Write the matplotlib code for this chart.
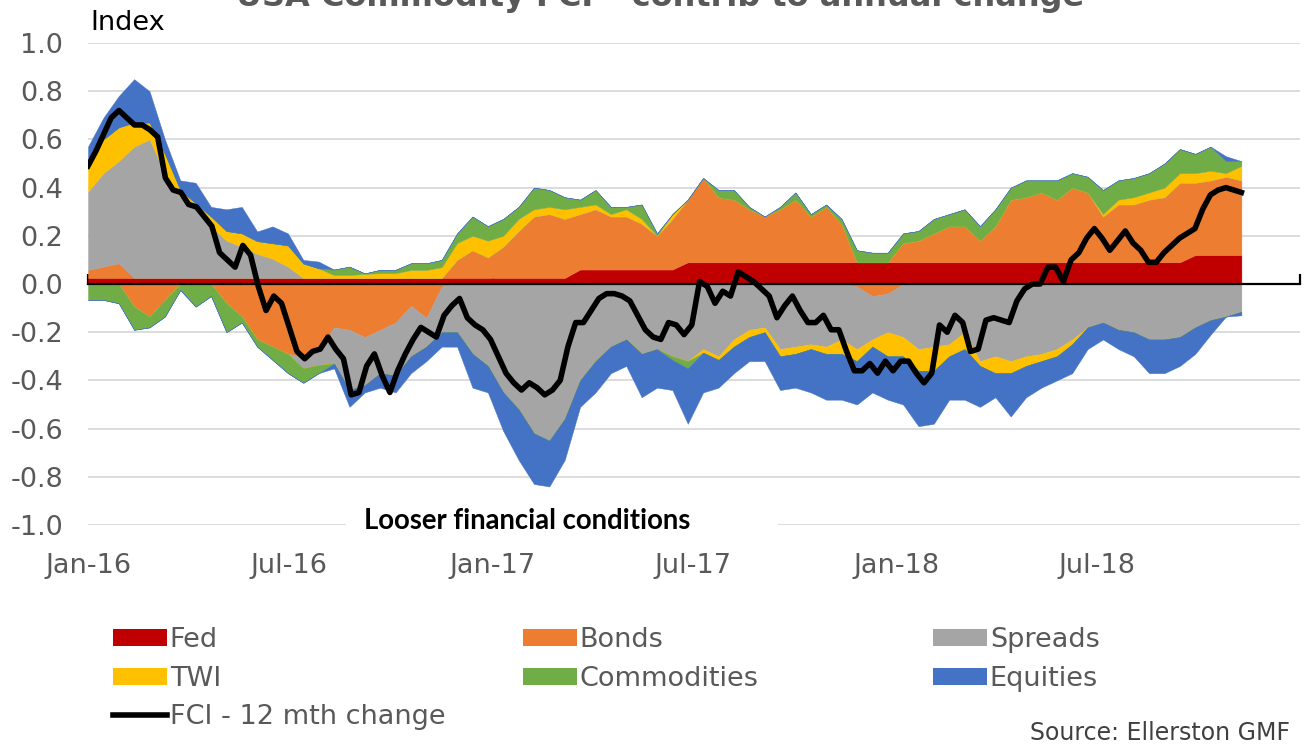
import numpy as np
import pandas as pd
import matplotlib
matplotlib.use("Agg")
import matplotlib.pyplot as plt
import matplotlib.dates as mdates
from matplotlib.patches import Patch, Rectangle
from matplotlib.lines import Line2D

# --- data --------------------------------------------------------------
# stacked contributions, roughly every two weeks, Jan-16 .. early Nov-18
fed = [0.025] * 32 + [0.06] * 7 + [0.09] * 33 + [0.12] * 4
bonds = [0.033, 0.047, 0.061, -0.094, -0.135, -0.066, 0.0, 0.0, 0.0, -0.08,
         -0.135, -0.23, -0.26, -0.29, -0.30, -0.27, -0.18, -0.19, -0.22, -0.19,
         -0.16, -0.09, -0.14, -0.01, 0.075, 0.115, 0.085, 0.13, 0.195, 0.255,
         0.265, 0.245, 0.23, 0.25, 0.22, 0.22, 0.19, 0.14, 0.21, 0.26,
         0.35, 0.27, 0.26, 0.22, 0.19, 0.22, 0.26, 0.19, 0.23, 0.16,
         -0.01, -0.05, -0.04, 0.08, 0.09, 0.12, 0.15, 0.15, 0.09, 0.15,
         0.26, 0.27, 0.29, 0.26, 0.31, 0.29, 0.19, 0.24, 0.24, 0.26,
         0.27, 0.33, 0.30, 0.31, 0.325, 0.31]
spreads = [0.325, 0.388, 0.424, 0.545, 0.575, 0.435, 0.335, 0.285, 0.215, 0.155,
           0.13, 0.10, 0.08, 0.047, -0.05, -0.066, -0.15, -0.25, -0.20, -0.18,
           -0.22, -0.21, -0.12, -0.19, -0.20, -0.29, -0.34, -0.45, -0.52, -0.62,
           -0.65, -0.56, -0.40, -0.32, -0.26, -0.23, -0.29, -0.27, -0.30, -0.32,
           -0.27, -0.30, -0.23, -0.19, -0.18, -0.27, -0.26, -0.25, -0.26, -0.23,
           -0.26, -0.18, -0.16, -0.22, -0.27, -0.26, -0.25, -0.20, -0.32, -0.30,
           -0.32, -0.30, -0.29, -0.27, -0.23, -0.18, -0.16, -0.19, -0.20, -0.23,
           -0.23, -0.22, -0.18, -0.15, -0.135, -0.115]
twi = [0.097, 0.14, 0.14, 0.10, 0.07, 0.08, 0.03, 0.025, 0.04, 0.04,
       0.055, 0.053, 0.064, 0.088, 0.06, 0.04, 0.012, 0.012, 0.017, 0.02,
       0.02, 0.033, 0.033, 0.045, 0.07, 0.06, 0.07, 0.045, 0.05, 0.03,
       0.03, 0.04, 0.03, 0.02, 0.01, 0.03, 0.02, 0.0, 0.02, 0.0,
       -0.015, -0.015, -0.03, -0.03, -0.02, -0.03, -0.03, -0.02, -0.03, -0.06,
       -0.05, -0.03, -0.10, -0.08, -0.09, -0.10, -0.05, -0.07, -0.02, -0.07,
       -0.05, -0.04, -0.03, -0.03, -0.02, 0.0, 0.01, 0.02, 0.03, 0.03,
       0.04, 0.04, 0.04, 0.04, 0.015, 0.06]
commodities = [-0.066, -0.066, -0.08, -0.096, -0.045, -0.069, -0.025, -0.094, -0.05, -0.12,
               -0.025, -0.03, -0.055, -0.08, -0.06, -0.034, 0.023, 0.035, 0.002, 0.014,
               0.014, 0.028, 0.028, 0.03, 0.04, 0.08, 0.06, 0.07, 0.05, 0.09,
               0.07, 0.05, 0.03, 0.06, 0.03, 0.01, 0.06, 0.01, -0.015, -0.03,
               0.0, 0.03, 0.04, 0.01, 0.0, 0.01, 0.03, 0.01, 0.01, 0.02,
               0.05, 0.04, 0.04, 0.04, 0.04, 0.06, 0.05, 0.07, 0.06, 0.07,
               0.05, 0.07, 0.05, 0.08, 0.06, 0.065, 0.10, 0.08, 0.08, 0.08,
               0.10, 0.10, 0.08, 0.10, 0.05, 0.02]
equities = [0.09, 0.09, 0.13, 0.18, 0.13, 0.06, 0.04, 0.085, 0.04, 0.09,
            0.11, 0.04, 0.07, 0.05, 0.015, 0.028, -0.02, -0.07, -0.03, -0.06,
            -0.07, -0.07, -0.06, -0.06, -0.06, -0.14, -0.11, -0.16, -0.21, -0.21,
            -0.19, -0.17, -0.11, -0.13, -0.11, -0.11, -0.18, -0.16, -0.125, -0.23,
            -0.165, -0.115, -0.11, -0.10, -0.12, -0.14, -0.14, -0.18, -0.19, -0.19,
            -0.18, -0.19, -0.18, -0.20, -0.23, -0.22, -0.18, -0.21, -0.17, -0.10,
            -0.18, -0.13, -0.11, -0.10, -0.12, -0.09, -0.07, -0.08, -0.10, -0.14,
            -0.14, -0.12, -0.11, -0.06, 0.02, -0.015]

# FCI 12 month change, weekly
fci = [0.49, 0.55, 0.62, 0.69, 0.72, 0.69, 0.66, 0.66, 0.64, 0.61,
       0.44, 0.39, 0.38, 0.33, 0.32, 0.28, 0.24, 0.13, 0.10, 0.07,
       0.16, 0.12, -0.01, -0.11, -0.05, -0.08, -0.18, -0.28, -0.31, -0.28,
       -0.27, -0.22, -0.27, -0.31, -0.46, -0.45, -0.34, -0.29, -0.38, -0.45,
       -0.36, -0.29, -0.23, -0.18, -0.20, -0.22, -0.13, -0.09, -0.06, -0.14,
       -0.17, -0.19, -0.23, -0.30, -0.37, -0.41, -0.44, -0.41, -0.43, -0.46,
       -0.44, -0.40, -0.26, -0.16, -0.16, -0.11, -0.06, -0.04, -0.04, -0.05,
       -0.07, -0.13, -0.19, -0.22, -0.23, -0.16, -0.17, -0.21, -0.17, 0.01,
       -0.01, -0.08, -0.03, -0.05, 0.05, 0.03, 0.01, -0.02, -0.05, -0.14,
       -0.09, -0.05, -0.11, -0.16, -0.16, -0.13, -0.19, -0.19, -0.28, -0.36,
       -0.36, -0.33, -0.37, -0.32, -0.36, -0.32, -0.32, -0.37, -0.41, -0.37,
       -0.17, -0.20, -0.13, -0.16, -0.28, -0.27, -0.15, -0.14, -0.15, -0.16,
       -0.07, -0.02, 0.00, 0.00, 0.07, 0.07, 0.01, 0.10, 0.13, 0.19,
       0.23, 0.19, 0.14, 0.18, 0.22, 0.17, 0.14, 0.09, 0.09, 0.13,
       0.16, 0.19, 0.21, 0.23, 0.31, 0.37, 0.39, 0.40, 0.39, 0.38]

names = ["Fed", "Bonds", "Spreads", "TWI", "Commodities", "Equities"]
colors = ["#C00000", "#ED7D31", "#A5A5A5", "#FFC000", "#70AD47", "#4472C4"]

comp_dates = pd.date_range("2016-01-01", "2018-11-09", periods=len(fed))
line_dates = pd.date_range("2016-01-01", "2018-11-09", periods=len(fci))

grey_txt = "#595959"
fs = 19.5

fig = plt.figure(figsize=(13.04, 7.44), dpi=100)
ax = fig.add_axes([88 / 1304, 1 - 525 / 744, 1212 / 1304, 482 / 744])

# stacked columns: positives stack up from zero, negatives down, in series order
vals = np.array([fed, bonds, spreads, twi, commodities, equities])
pos_cum = np.cumsum(np.clip(vals, 0, None), axis=0)
neg_cum = np.cumsum(np.clip(vals, None, 0), axis=0)
zero = np.zeros(vals.shape[1])
for i, c in enumerate(colors):
    lo_p = pos_cum[i - 1] if i else zero
    lo_n = neg_cum[i - 1] if i else zero
    ax.fill_between(comp_dates, lo_p, pos_cum[i], color=c, lw=0.3, zorder=1)
    ax.fill_between(comp_dates, lo_n, neg_cum[i], color=c, lw=0.3, zorder=1)

ax.plot(line_dates, fci, color="black", lw=4.0, zorder=4, solid_joinstyle="round")

ax.set_xlim(pd.Timestamp("2016-01-01"), pd.Timestamp("2019-01-01"))
ax.set_ylim(-1, 1)

for s in ["top", "right", "left"]:
    ax.spines[s].set_visible(False)
ax.spines["bottom"].set_position(("data", 0))
ax.spines["bottom"].set_linewidth(1.6)
ax.spines["bottom"].set_zorder(3)

ax.xaxis.set_major_locator(mdates.MonthLocator(bymonth=[1, 7]))
ax.tick_params(axis="x", direction="in", length=7, width=1.6, labelbottom=False)
xlabels = ["Jan-16", "Jul-16", "Jan-17", "Jul-17", "Jan-18", "Jul-18"]
xdates = pd.date_range("2016-01-01", periods=len(xlabels), freq="6MS")
for d, lab in zip(xdates, xlabels):
    ax.text(d, -1.17, lab, ha="center", va="center", fontsize=fs,
            color=grey_txt, clip_on=False)

yt = np.round(np.linspace(-1, 1, 11), 1)
ax.set_yticks(yt)
ax.set_yticklabels([f"{v + 0.0:.1f}" for v in yt])
ax.tick_params(axis="y", length=0, pad=18, labelsize=fs, labelcolor=grey_txt)
ax.grid(axis="y", color="#D9D9D9", lw=1.3)
ax.set_axisbelow(True)

# text box sitting on the -1.0 gridline
ax.add_patch(Rectangle((0.213, -0.02), 0.356, 0.04, transform=ax.transAxes,
                       fc="white", ec="none", zorder=0.8, clip_on=False))
ax.text(0.362, -0.985, "Looser financial conditions", transform=ax.get_yaxis_transform(),
        ha="center", va="center", fontsize=19.8, fontweight="bold",
        family="Lato", color="black", zorder=5)

fig.text(0.506, 1 - 6 / 744, "USA Commodity FCI \u2013 contrib to annual change",
         ha="center", va="baseline", fontsize=23, fontweight="bold", color=grey_txt)
fig.text(90 / 1304, 1 - 23 / 744, "Index", ha="left", va="center",
         fontsize=fs, color="black")
fig.text(1290 / 1304, 1 - 733 / 744, "Source: Ellerston GMF", ha="right",
         va="center", fontsize=17, color="#404040")

# legend in three columns
patches = [Patch(facecolor=c, edgecolor="none") for c in colors]
line_h = Line2D([], [], color="black", lw=4.0)
cols = [([patches[0], patches[3], line_h], [names[0], names[3], "FCI - 12 mth change"], 113),
        ([patches[1], patches[4]], [names[1], names[4]], 523),
        ([patches[2], patches[5]], [names[2], names[5]], 933)]
for hs, ls, xpx in cols:
    fig.legend(hs, ls, loc="upper left", bbox_to_anchor=(xpx / 1304, 1 - 627 / 744),
               frameon=False, fontsize=fs, labelcolor=grey_txt, handlelength=2.0,
               handleheight=0.6, handletextpad=0.1, labelspacing=0.47,
               borderpad=0, borderaxespad=0)

fig.savefig("out.png", dpi=100)
